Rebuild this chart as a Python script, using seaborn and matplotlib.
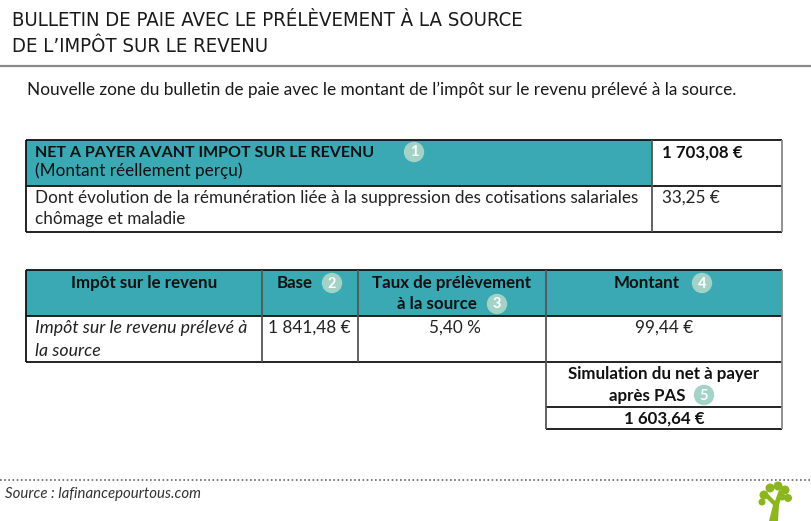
import matplotlib
matplotlib.use("Agg")
import matplotlib.pyplot as plt
import seaborn as sns
from matplotlib import font_manager as fm
from matplotlib.patches import Rectangle, Circle, Polygon

sns.set_theme(style="white")
plt.rcParams['font.family'] = ['Lato', 'DejaVu Sans']

# ---- content ----
title_lines = ["BULLETIN DE PAIE AVEC LE PRÉLÈVEMENT À LA SOURCE", "DE L’IMPÔT SUR LE REVENU"]
subtitle = "Nouvelle zone du bulletin de paie avec le montant de l’impôt sur le revenu prélevé à la source."
t1_header = ["NET A PAYER AVANT IMPOT SUR LE REVENU", "(Montant réellement perçu)"]
t1_header_value = "1 703,08 €"
t1_row = ["Dont évolution de la rémunération liée à la suppression des cotisations salariales", "chômage et maladie"]
t1_row_value = "33,25 €"
t2_headers = ["Impôt sur le revenu", "Base", "Taux de prélèvement\nà la source", "Montant"]
t2_row_label = ["Impôt sur le revenu prélevé à", "la source"]
t2_base = "1 841,48 €"
t2_taux = "5,40 %"
t2_montant = "99,44 €"
sim_label = ["Simulation du net à payer", "après PAS"]
sim_value = "1 603,64 €"
source = "Source : lafinancepourtous.com"

TEAL = "#3aa9b4"
BADGE = "#a3d2c6"
FR, FB, FI = 12.3, 12.2, 12.8

# condensed font for title if available
cond = None
for f in fm.fontManager.ttflist:
    nm = f.name.lower()
    if (('narrow' in nm or 'condensed' in nm or str(f.stretch) in ('condensed', 'semi-condensed', '75', '87'))
            and f.style == 'normal' and str(f.weight) in ('400', 'normal', 'regular', 'book')):
        cond = f
        if 'dejavu sans' in nm or 'liberation' in nm:
            break

fig = plt.figure(figsize=(8.12, 5.21), dpi=100)
ax = fig.add_axes([0, 0, 1, 1])
ax.set_xlim(0, 812)
ax.set_ylim(521, 0)
ax.axis("off")

# title
for i, line in enumerate(title_lines):
    if cond is not None:
        fp = fm.FontProperties(fname=cond.fname, size=14.6)
        ax.text(12, 21 + 25 * i, line, fontproperties=fp, color="#1a1a1a", va="center", ha="left")
    else:
        ax.text(12, 21 + 25 * i, line, fontsize=14.5, family=['DejaVu Sans'],
                color="#1a1a1a", va="center", ha="left")
ax.plot([0, 812], [66, 66], color="#8a8a8a", lw=1.6)
ax.text(27, 90, subtitle, fontsize=12.4, color="#1a1a1a", va="center", ha="left")

def hline(x0, x1, y, c="#111111", lw=1.3):
    ax.plot([x0, x1], [y, y], color=c, lw=lw, solid_capstyle="butt")

def vline(x, y0, y1, c="#555555", lw=1.3):
    ax.plot([x, x], [y0, y1], color=c, lw=lw, solid_capstyle="butt")

def badge(x, y, n):
    ax.add_patch(Circle((x, y), 9.5, color=BADGE, zorder=3))
    ax.text(x, y + 0.5, str(n), color="white", fontsize=10.5, fontweight="bold",
            ha="center", va="center", zorder=4)

# ---- table 1 ----
L, R = 26, 782
ax.add_patch(Rectangle((L, 140), 652 - L, 46, color=TEAL, lw=0))
hline(L, R, 140); hline(L, R, 186); hline(L, R, 232)
vline(L, 140, 232, c="#111111"); vline(652, 140, 232); vline(R, 140, 232, c="#888888")
ax.text(35, 153, t1_header[0], fontsize=11.5, fontweight="bold", color="#111", va="center")
ax.text(35, 171, t1_header[1], fontsize=FR, color="#111", va="center")
badge(414, 152, 1)
ax.text(662, 153, t1_header_value, fontsize=FB, fontweight="bold", color="#111", va="center")
ax.text(35, 198, t1_row[0], fontsize=FR, color="#222", va="center")
ax.text(35, 219, t1_row[1], fontsize=FR, color="#222", va="center")
ax.text(662, 198, t1_row_value, fontsize=FR, color="#222", va="center")

# ---- table 2 ----
cols = [26, 262, 358, 546, 782]
ax.add_patch(Rectangle((26, 270), 782 - 26, 46, color=TEAL, lw=0))
hline(26, 782, 270); hline(26, 782, 316); hline(26, 782, 362)
for i, x in enumerate(cols):
    vline(x, 270, 362, c="#111111" if i == 0 else ("#888888" if i == 4 else "#555555"))
ax.text((cols[0] + cols[1]) / 2, 283, t2_headers[0], fontsize=FB, fontweight="bold", color="#111", ha="center", va="center")
ax.text(295, 283, t2_headers[1], fontsize=FB, fontweight="bold", color="#111", ha="center", va="center")
badge(332, 283, 2)
h3 = t2_headers[2].split("\n")
ax.text(452, 283, h3[0], fontsize=FB, fontweight="bold", color="#111", ha="center", va="center")
ax.text(437, 304, h3[1], fontsize=FB, fontweight="bold", color="#111", ha="center", va="center")
badge(497, 304, 3)
ax.text(647, 283, t2_headers[3], fontsize=FB, fontweight="bold", color="#111", ha="center", va="center")
badge(702, 283, 4)
ax.text(35, 328, t2_row_label[0], fontsize=FI, style="italic", color="#222", va="center")
ax.text(35, 351, t2_row_label[1], fontsize=FI, style="italic", color="#222", va="center")
ax.text(268, 328, t2_base, fontsize=FR, color="#222", va="center")
ax.text(455, 328, t2_taux, fontsize=FR, color="#222", ha="center", va="center")
ax.text(664, 328, t2_montant, fontsize=FR, color="#222", ha="center", va="center")

# simulation box
hline(546, 782, 407); hline(546, 782, 429)
vline(546, 362, 429); vline(782, 362, 429, c="#888888")
ax.text(664, 374, sim_label[0], fontsize=FB, fontweight="bold", color="#111", ha="center", va="center")
ax.text(647, 396, sim_label[1], fontsize=FB, fontweight="bold", color="#111", ha="center", va="center")
badge(704, 395, 5)
ax.text(664, 419, sim_value, fontsize=FB, fontweight="bold", color="#111", ha="center", va="center")

# footer
ax.plot([0, 812], [480, 480], color="#666666", lw=1.2, ls=(0, (1, 1.5)))
ax.text(5, 494, source, fontsize=10.8, style="italic", color="#333", va="center")

# tree logo
G = "#8db51e"
ax.add_patch(Polygon([[769, 521], [773, 505], [765, 497], [768, 494], [775, 501], [779, 490],
                      [783, 491], [779, 505], [778, 521]], color=G, lw=0))
for (cx, cy, r) in [(764, 495, 4.5), (770, 488, 4.5), (778, 486, 4.5), (785, 490, 4.5), (788, 498, 4),
                    (782, 497, 3.5), (762, 502, 3.5)]:
    ax.add_patch(Circle((cx, cy), r, color=G, lw=0))

fig.savefig("out.png", dpi=100)
